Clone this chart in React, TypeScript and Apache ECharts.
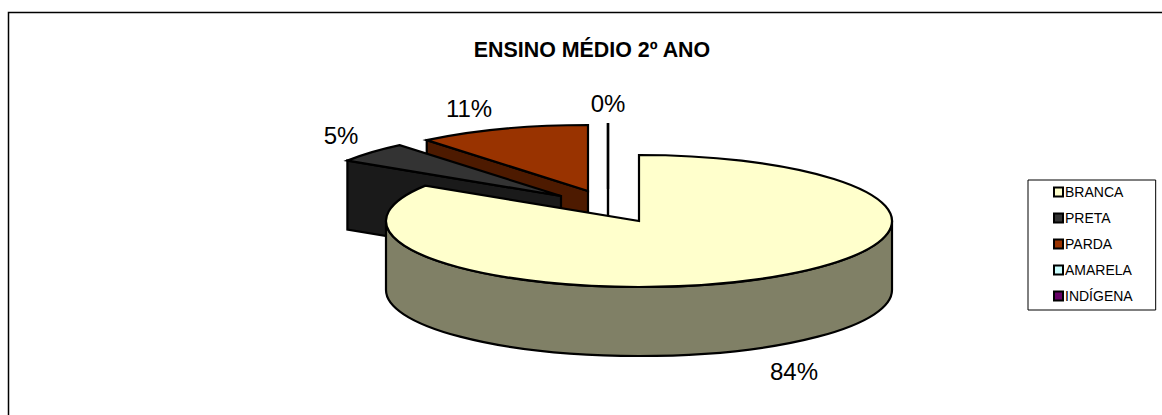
import React, { useEffect, useRef } from "react";
import * as echarts from "echarts";

const title = "ENSINO MÉDIO 2º ANO";
const categories = ["BRANCA", "PRETA", "PARDA", "AMARELA", "INDÍGENA"];
const values = [84, 5, 11, 0, 0];
const topColors = ["#FFFFCC", "#333333", "#993300", "#CCFFFF", "#660066"];
const sideColors = ["#808066", "#1A1A1A", "#4D1A00", "#668080", "#330033"];
const explodeX = [0, -78, -51, -31, -31];
const explodeY = [0, -25, -30, -32, -32];
const labelX = [794, 341, 469, 608, 608];
const labelY = [371, 135, 108, 103, 103];
const labelShown = [true, true, true, true, false];
const stackOrder = [4, 3, 0, 1, 2];

const CX = 639;
const CY = 221;
const RX = 253;
const RY = 66;
const DEPTH = 69;
const LINE = 2.2;
const total = values.reduce((a, b) => a + b, 0);

function pt(cx: number, cy: number, deg: number) {
  const r = (deg * Math.PI) / 180;
  return [cx + RX * Math.sin(r), cy - RY * Math.cos(r)];
}

function arcTo(p: number[], sweep: number, large: number) {
  return `A ${RX} ${RY} 0 ${large} ${sweep} ${p[0]} ${p[1]}`;
}

function buildChildren(i: number, a0: number, a1: number, text: string) {
  const cx = CX + explodeX[i];
  const cy = CY + explodeY[i];
  const side = {
    fill: sideColors[i],
    stroke: "#000",
    lineWidth: LINE,
    lineJoin: "miter",
  };
  const children: any[] = [];
  const radial = (deg: number) => {
    const p = pt(cx, cy, deg);
    return {
      type: "polygon",
      shape: {
        points: [
          [cx, cy],
          [p[0], p[1]],
          [p[0], p[1] + DEPTH],
          [cx, cy + DEPTH],
        ],
      },
      style: side,
    };
  };
  const s0 = a0 % 360;
  const s1 = a1 % 360;
  const empty = a1 - a0 < 0.01;
  if (s1 > 0.01 && s1 < 179.99) children.push(radial(s1));
  if (empty || (s0 > 180.01 && s0 < 359.99)) children.push(radial(s0));

  const wallFrom = Math.max(a0, 90);
  const wallTo = Math.min(a1, 270);
  if (wallTo > wallFrom) {
    const p = pt(cx, cy, wallFrom);
    const q = pt(cx, cy, wallTo);
    const pathData =
      `M ${p[0]} ${p[1]} ` +
      arcTo(q, 1, 0) +
      ` L ${q[0]} ${q[1] + DEPTH} ` +
      arcTo([p[0], p[1] + DEPTH], 0, 0) +
      " Z";
    children.push({ type: "path", shape: { pathData }, style: side });
  }

  const p0 = pt(cx, cy, a0);
  const p1 = pt(cx, cy, a1);
  const large = a1 - a0 > 180 ? 1 : 0;
  const topPath = empty
    ? `M ${cx} ${cy} L ${p0[0]} ${p0[1]}`
    : `M ${cx} ${cy} L ${p0[0]} ${p0[1]} ` + arcTo(p1, 1, large) + " Z";
  children.push({
    type: "path",
    shape: { pathData: topPath },
    style: {
      fill: topColors[i],
      stroke: "#000",
      lineWidth: LINE,
      lineJoin: "miter",
    },
  });
  if (labelShown[i]) {
    children.push({
      type: "text",
      x: labelX[i],
      y: labelY[i],
      style: {
        text,
        fill: "#000",
        font: "24px 'Liberation Sans', Arial, sans-serif",
        textAlign: "center",
        textVerticalAlign: "middle",
      },
    });
  }
  return children;
}

export default function App() {
  const ref = useRef<HTMLDivElement>(null);
  useEffect(() => {
    document.body.style.margin = "0";
    const chart = echarts.init(ref.current!, null, { renderer: "svg" });
    let acc = 0;
    const series = categories.map((name, i) => {
      const a0 = (acc / total) * 360;
      acc += values[i];
      const a1 = (acc / total) * 360;
      const text = `${Math.round((values[i] / total) * 100)}%`;
      return {
        type: "custom",
        name,
        coordinateSystem: "none",
        z: 2 + stackOrder[i],
        itemStyle: { color: topColors[i] },
        data: [{ name, value: values[i] }],
        silent: true,
        renderItem: () => ({
          type: "group",
          children: buildChildren(i, a0, a1, text),
        }),
      };
    });
    chart.setOption({
      animation: false,
      backgroundColor: "#fff",
      title: {
        text: title,
        left: 587,
        top: 34,
        textAlign: "center",
        textStyle: {
          color: "#000",
          fontFamily: "'Liberation Sans', Arial, sans-serif",
          fontSize: 21.4,
          fontWeight: "bold",
        },
      },
      legend: {
        data: categories,
        orient: "vertical",
        left: 1028,
        top: 180,
        icon: "rect",
        itemWidth: 9,
        itemHeight: 9,
        itemGap: 12,
        padding: [5, 23, 7, 25],
        borderColor: "#000",
        borderWidth: 1,
        selectedMode: false,
        itemStyle: { borderColor: "#000", borderWidth: 2 },
        textStyle: {
          color: "#000",
          fontFamily: "'Liberation Sans', Arial, sans-serif",
          fontSize: 14,
          padding: [0, 0, 0, -3],
        },
      },
      graphic: [
        {
          type: "polyline",
          silent: true,
          shape: {
            points: [
              [8.5, 415],
              [8.5, 12.5],
              [1162, 12.5],
            ],
          },
          style: { stroke: "#000", lineWidth: 1.5, fill: "none" },
        },
      ],
      series,
    });
    return () => chart.dispose();
  }, []);
  return (
    <div
      ref={ref}
      style={{ position: "absolute", left: 0, top: 0, width: 1162, height: 415 }}
    />
  );
}
